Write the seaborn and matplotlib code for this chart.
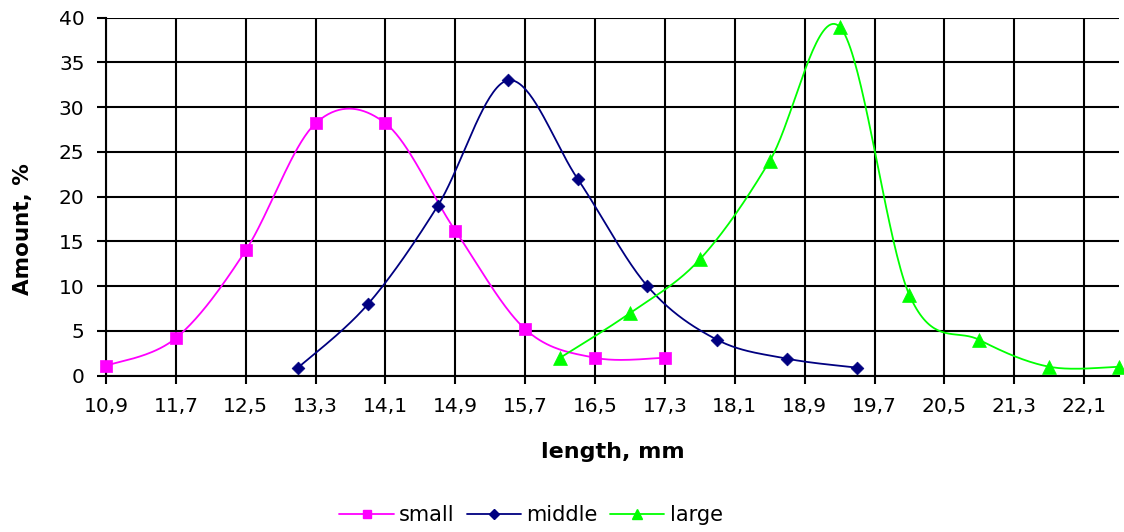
import numpy as np
import pandas as pd
import matplotlib
matplotlib.use("Agg")
import matplotlib.pyplot as plt
from matplotlib.lines import Line2D
import seaborn as sns

# ---- data ----
series_names = ["small", "middle", "large"]
small_x = [10.9, 11.7, 12.5, 13.3, 14.1, 14.9, 15.7, 16.5, 17.3]
small_y = [1.1, 4.2, 14.0, 28.2, 28.2, 16.2, 5.2, 2.0, 2.0]
middle_x = [13.1, 13.9, 14.7, 15.5, 16.3, 17.1, 17.9, 18.7, 19.5]
middle_y = [0.9, 8.0, 19.0, 33.0, 22.0, 10.0, 4.0, 1.9, 0.9]
large_x = [16.1, 16.9, 17.7, 18.5, 19.3, 20.1, 20.9, 21.7, 22.5]
large_y = [2.0, 7.0, 13.0, 24.0, 39.0, 9.0, 4.0, 1.0, 1.0]
x_ticks = [10.9, 11.7, 12.5, 13.3, 14.1, 14.9, 15.7, 16.5, 17.3, 18.1, 18.9, 19.7, 20.5, 21.3, 22.1]
x_tick_labels = ["10,9", "11,7", "12,5", "13,3", "14,1", "14,9", "15,7", "16,5", "17,3",
                 "18,1", "18,9", "19,7", "20,5", "21,3", "22,1"]
y_ticks = [0, 5, 10, 15, 20, 25, 30, 35, 40]

colors = {"small": "#FF00FF", "middle": "#000080", "large": "#00FF00"}
markers = {"small": "s", "middle": "D", "large": "^"}
msizes = {"small": 8, "middle": 6.5, "large": 10}

df = pd.concat([
    pd.DataFrame({"x": small_x, "y": small_y, "series": "small"}),
    pd.DataFrame({"x": middle_x, "y": middle_y, "series": "middle"}),
    pd.DataFrame({"x": large_x, "y": large_y, "series": "large"}),
], ignore_index=True)


def smooth(xs, ys, n=40):
    """Excel-style smoothed line (cubic Bezier with 1/6 tangents)."""
    P = np.column_stack([xs, ys]).astype(float)
    P_ext = np.vstack([P[0], P, P[-1]])
    out = []
    t = np.linspace(0, 1, n)[:, None]
    for i in range(len(P) - 1):
        p0, p1, p2, p3 = P_ext[i], P_ext[i + 1], P_ext[i + 2], P_ext[i + 3]
        b1 = p1 + (p2 - p0) / 6.0
        b2 = p2 - (p3 - p1) / 6.0
        seg = ((1 - t) ** 3) * p1 + 3 * ((1 - t) ** 2) * t * b1 + 3 * (1 - t) * t ** 2 * b2 + t ** 3 * p2
        out.append(seg if i == 0 else seg[1:])
    c = np.vstack(out)
    return c[:, 0], c[:, 1]


sns.set_theme(style="white")
plt.rcParams["font.family"] = ["DejaVu Sans"]
plt.rcParams["text.color"] = "black"

fig = plt.figure(figsize=(11.24, 5.32), dpi=100)
ax = fig.add_axes([0.0943, 0.2938, 0.9013, 0.6729])

for name in series_names:
    sub = df[df["series"] == name]
    cx, cy = smooth(sub["x"].values, sub["y"].values)
    ax.plot(cx, cy, color=colors[name], lw=1.3, zorder=3, clip_on=False)
    sns.scatterplot(data=sub, x="x", y="y", ax=ax, marker=markers[name],
                    color=colors[name], s=msizes[name] ** 2, edgecolor=colors[name],
                    linewidth=0.5, zorder=4, clip_on=False, legend=False)

ax.set_xlim(10.9, 22.5)
ax.set_ylim(0, 40)
ax.set_xticks(x_ticks)
ax.set_xticklabels(x_tick_labels)
ax.set_yticks(y_ticks)

ax.grid(True, color="black", lw=1.5)
ax.set_axisbelow(True)
for s in ["top", "right"]:
    ax.spines[s].set_visible(False)
for s in ["left", "bottom"]:
    ax.spines[s].set_color("black")
    ax.spines[s].set_linewidth(1.5)

ax.tick_params(axis="x", direction="out", length=5.5, width=1.5, color="black",
               pad=10, labelsize=14.5, labelcolor="black", bottom=True)
ax.tick_params(axis="y", direction="out", length=6.5, width=1.5, color="black",
               pad=9, labelsize=14.5, labelcolor="black", left=True)

ax.set_xlabel("length, mm", fontsize=16, fontweight="bold", color="black")
ax.set_ylabel("Amount, %", fontsize=15.5, fontweight="bold", color="black")
ax.xaxis.set_label_coords(0.5, -0.213)
ax.xaxis.label.set_va("center")
ax.yaxis.set_label_coords(-0.082, 0.41)
ax.yaxis.label.set_va("center")

handles = [Line2D([0], [0], color=colors[n], lw=1.3, marker=markers[n],
                  markersize=msizes[n] * 0.75, markerfacecolor=colors[n],
                  markeredgecolor=colors[n]) for n in series_names]
fig.legend(handles, series_names, loc="center", bbox_to_anchor=(531 / 1124, 1 - 515 / 532),
           ncol=3, frameon=False, fontsize=15, handlelength=2.6, handletextpad=0.25,
           columnspacing=0.6, borderpad=0, labelcolor="black")

fig.savefig("out.png", dpi=100)
